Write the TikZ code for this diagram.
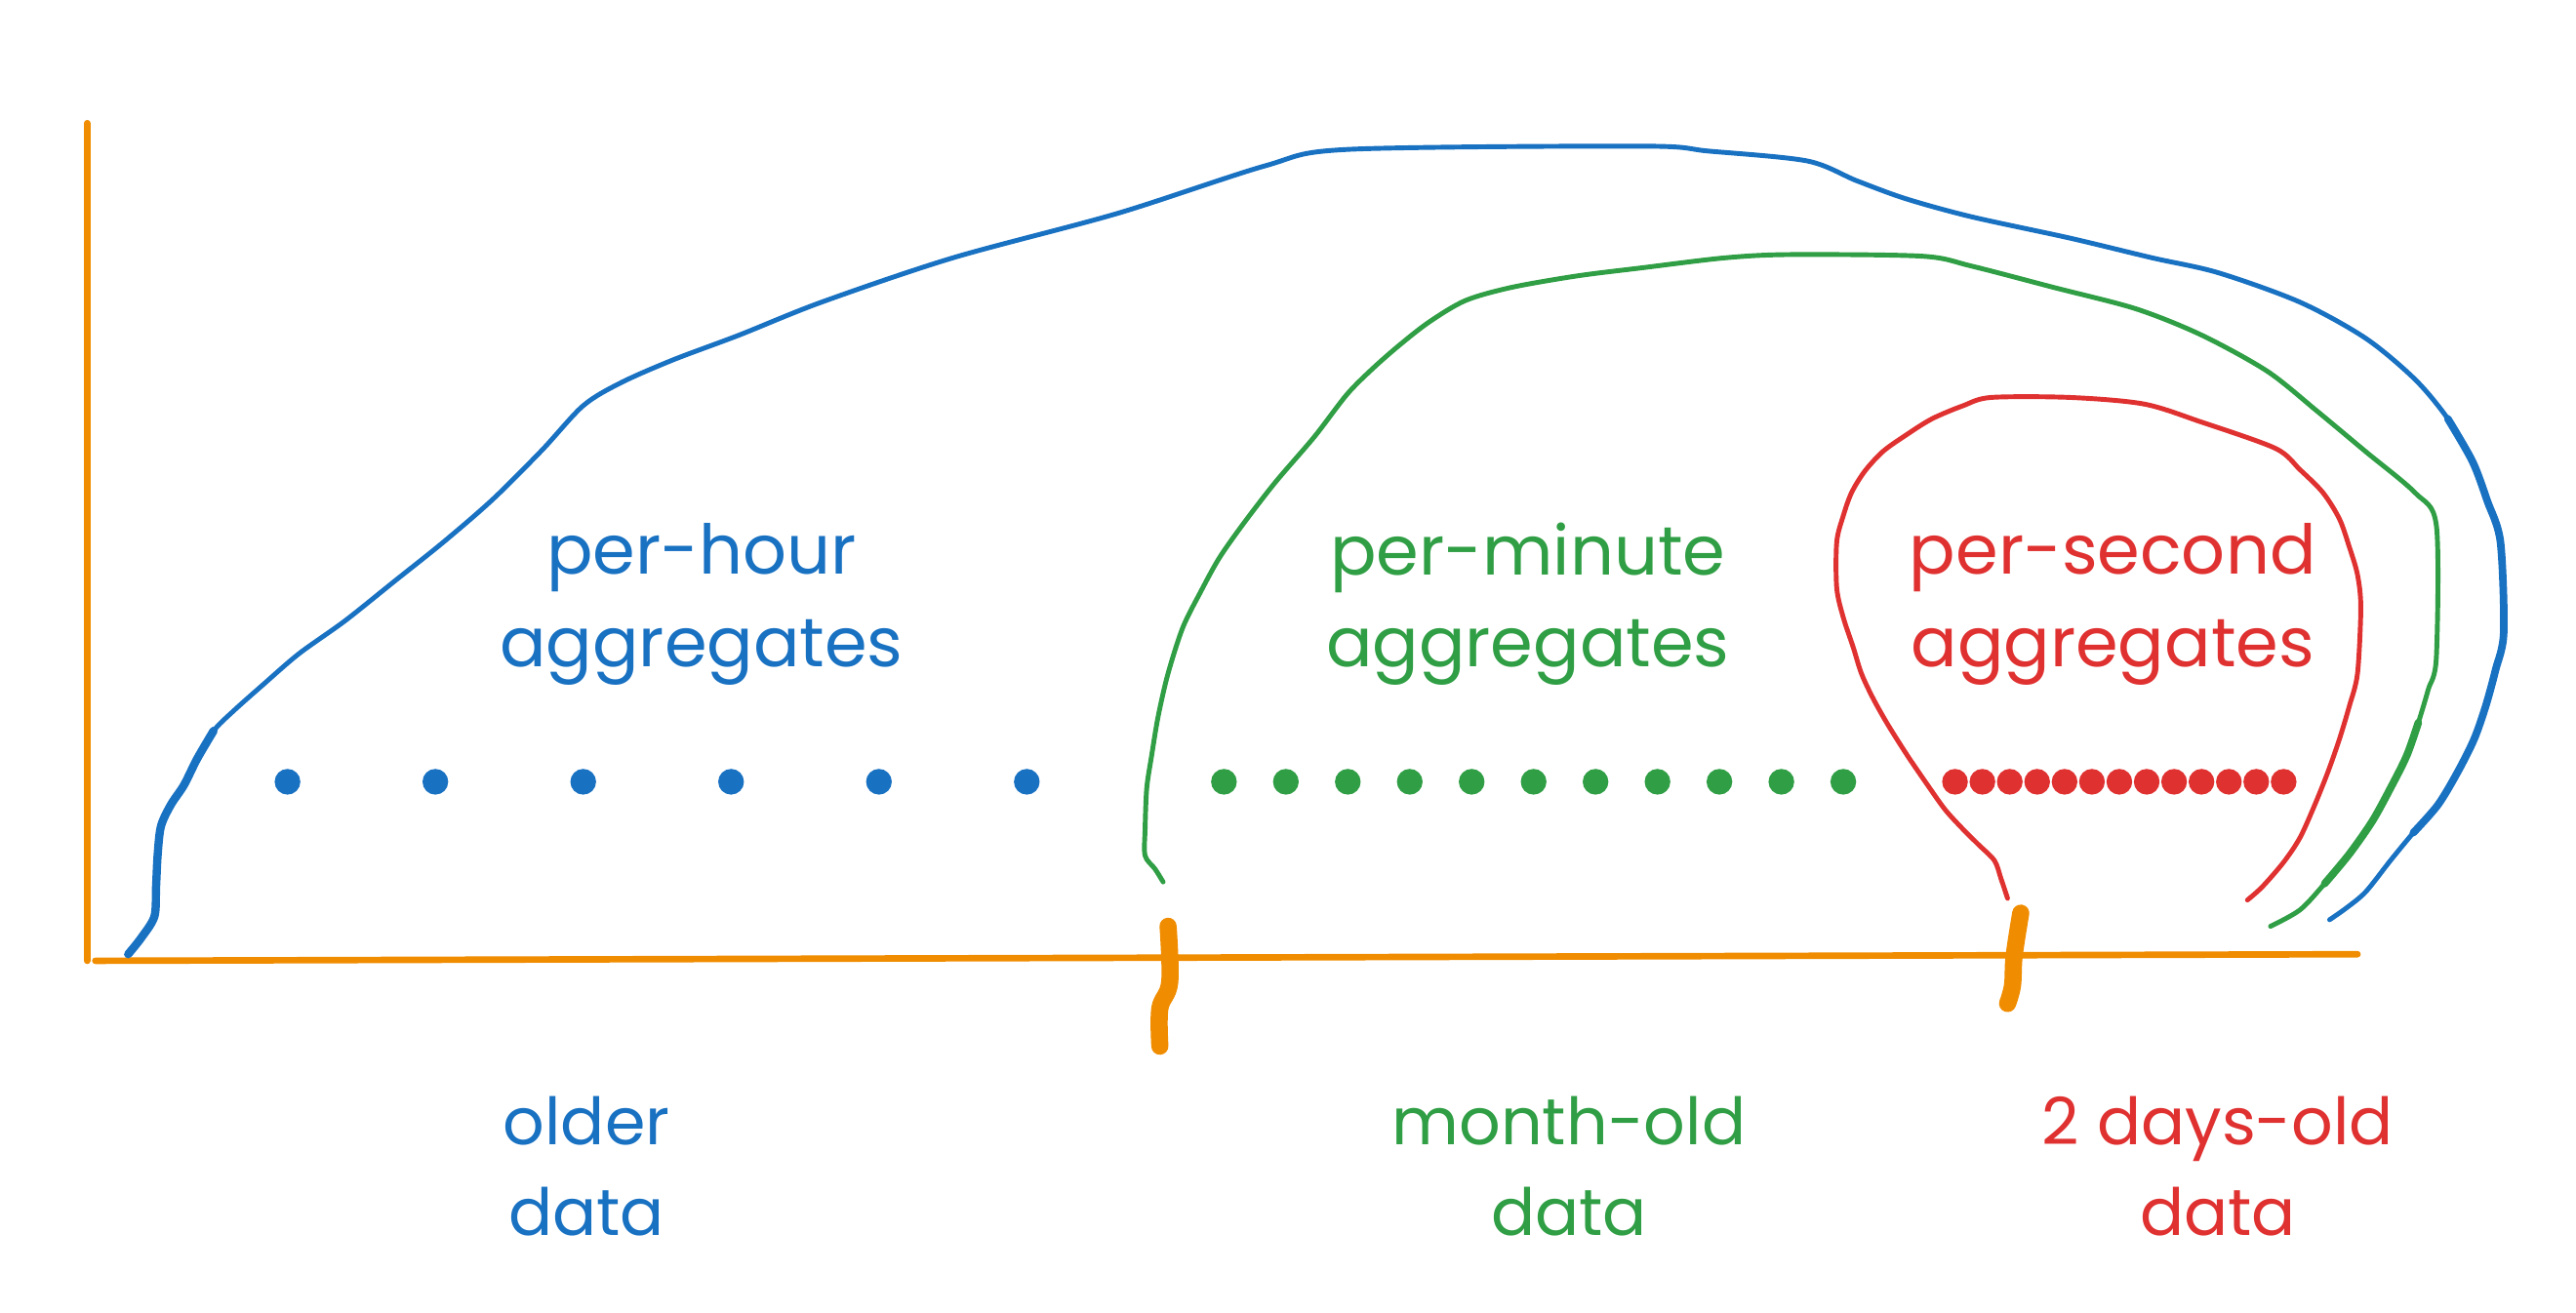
\documentclass[tikz,border=0pt]{standalone}
\usepackage{fontspec}
\setmainfont{Poppins}
\definecolor{xblue}{HTML}{1971C2}
\definecolor{xgreen}{HTML}{2F9E44}
\definecolor{xred}{HTML}{E03131}
\definecolor{xorange}{HTML}{F08C00}
\tikzset{
  axisline/.style={draw=xorange, line width=1.9pt, line cap=round},
  tickmark/.style={draw=xorange, line width=5pt, line cap=round, line join=round},
  sketch/.style={line width=1.4pt, line cap=round, line join=round},
  lbl/.style={align=center, font=\fontsize{20}{26.8}\selectfont, inner sep=0pt},
  lblb/.style={align=center, font=\fontsize{19}{26.3}\selectfont, inner sep=0pt},
  dot/.style={circle, inner sep=0pt, minimum size=7.5pt}
}
\begin{document}
\begin{tikzpicture}[x=0.016837cm, y=-0.016837cm]
\useasboundingbox (0,0) rectangle (1568,799);

% axes
\coordinate (ytop) at (53,75);
\coordinate (yorig) at (53,585);
\coordinate (xstart) at (58,585);
\coordinate (xend) at (1435,581);
\draw[axisline] (ytop) -- (yorig);
\draw[axisline] (xstart) -- (xend);

% ticks
\draw[tickmark] plot[smooth, tension=0.6] coordinates {(711,564) (712,598) (706,614) (706,637)};
\draw[tickmark] plot[smooth, tension=0.6] coordinates {(1230,556) (1226,582) (1225,600) (1222,611)};

% blue curve (per-hour)
\draw[sketch, xblue] plot[smooth, tension=0.5] coordinates {
 (78,581) (86,571) (94,558) (95,540) (96,520) (98,503) (104,490) (112,478) (120,462) (130,445) (142,433)
 (160,417) (182,398) (210,378) (240,354) (270,330) (300,304) (330,274) (355,247) (378,233)
 (410,219) (450,204) (500,184) (580,157) (680,130) (770,101) (820,91) (1000,89) (1040,92) (1100,98)
 (1130,110) (1160,121) (1200,132) (1260,145) (1310,157) (1350,166) (1400,184) (1440,206) (1470,231)
 (1490,255) (1505,281) (1514,305) (1522,330) (1524,385) (1519,408) (1513,430) (1506,450) (1496,470)
 (1484,490) (1469,507) (1455,524) (1440,543) (1428,553) (1418,560)};
\draw[xblue, line width=2.4pt, line cap=round] plot[smooth, tension=0.5] coordinates {
 (78,581) (86,571) (94,558) (95,540) (96,520) (98,503) (104,490) (112,478) (120,462) (130,445)};
\draw[xblue, line width=2.2pt, line cap=round] plot[smooth, tension=0.5] coordinates {
 (1490,255) (1505,281) (1514,305) (1522,330) (1524,385) (1519,408) (1513,430) (1506,450) (1496,470)
 (1484,490) (1469,507)};

% green curve (per-minute)
\draw[sketch, xgreen] plot[smooth, tension=0.5] coordinates {
 (708,537) (703,529) (697,521) (697,505) (698,480) (701,460) (705,436) (711,410) (720,382) (731,360)
 (742,340) (756,320) (776,294) (800,266) (820,240) (836,224) (852,210) (870,196) (892,183) (920,175)
 (960,168) (1000,163) (1050,157) (1090,155) (1170,156) (1200,162) (1250,175) (1300,188) (1340,204)
 (1380,226) (1410,250) (1440,275) (1470,300) (1483,320) (1483,400) (1478,420) (1472,440) (1465,460)
 (1455,480) (1444,500) (1430,520) (1415,538) (1400,554) (1382,564)};
\draw[xgreen, line width=2.2pt, line cap=round] plot[smooth, tension=0.5] coordinates {
 (1472,440) (1465,460) (1455,480) (1444,500) (1430,520) (1415,538)};

% red curve (per-second)
\draw[sketch, xred] plot[smooth, tension=0.5] coordinates {
 (1222,547) (1218,535) (1214,524) (1204,514) (1194,504) (1184,493) (1174,479) (1161,460) (1149,441)
 (1140,425) (1133,410) (1128,394) (1122,376) (1118,358) (1118,330) (1122,314) (1127,300) (1135,287)
 (1146,275) (1160,265) (1176,255) (1195,247) (1212,242) (1260,242) (1305,246) (1340,257) (1385,273)
 (1400,286) (1414,300) (1424,316) (1430,333) (1435,350) (1437,370) (1435,410) (1430,430) (1424,450)
 (1417,470) (1409,490) (1400,510) (1390,525) (1377,540) (1368,548)};

% dots
\foreach \i in {0,...,5} \node[dot, fill=xblue] (bd\i) at (175+90*\i,476) {};
\foreach \i in {0,...,10} \node[dot, fill=xgreen] (gd\i) at (745+37.7*\i,476) {};
\foreach \i in {0,...,12} \node[dot, fill=xred] (rd\i) at (1190+16.67*\i,476) {};

% labels
\node[lbl, text=xblue] (hour) at (427,368) {per-hour\\aggregates};
\node[lbl, text=xgreen] (minute) at (930,368) {per-minute\\aggregates};
\node[lbl, text=xred] (second) at (1286,368) {per-second\\aggregates};

\node[lblb, text=xblue] (older) at (357,710) {older\\data};
\node[lblb, text=xgreen] (month) at (955,710) {month-old\\data};
\node[lblb, text=xred] (days) at (1350,710) {2 days-old\\data};
\end{tikzpicture}
\end{document}
